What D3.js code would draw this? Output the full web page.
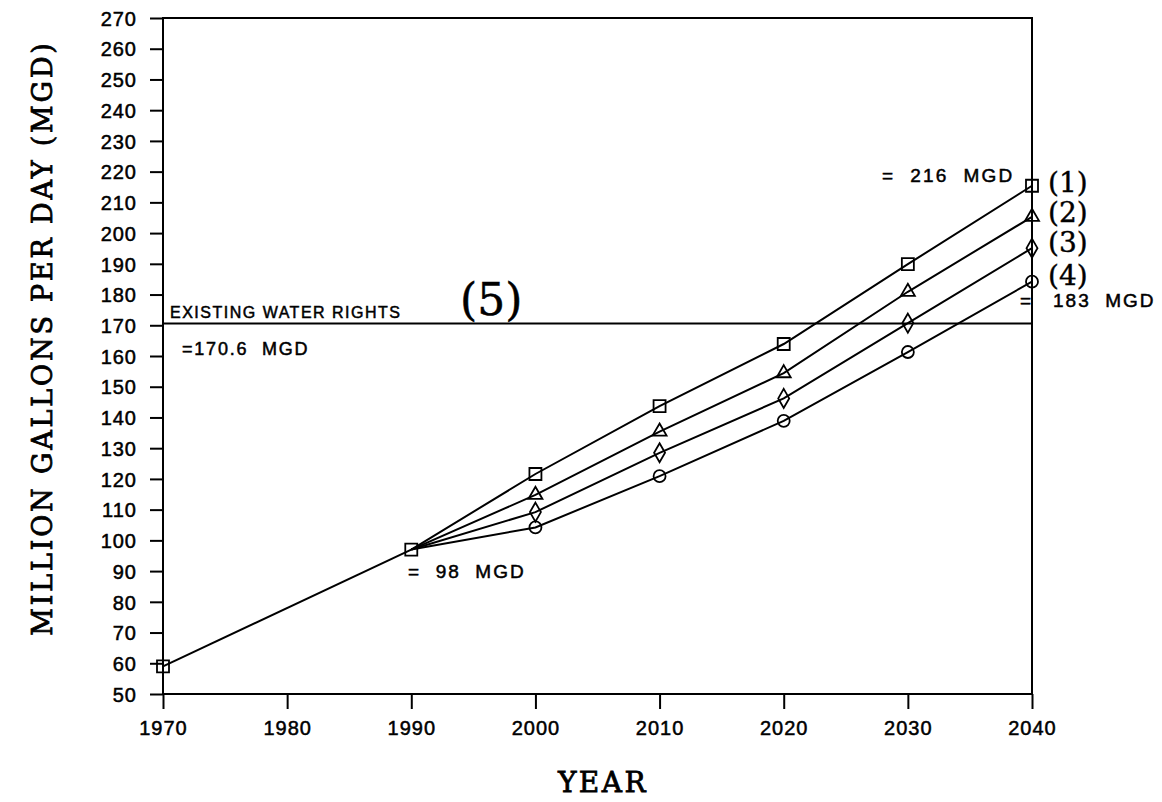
<!DOCTYPE html>
<html>
<head>
<meta charset="utf-8">
<script src="https://cdn.jsdelivr.net/npm/d3@7"></script>
<style>
  body { margin: 0; background: #fff; }
  text { fill: #000; }
</style>
</head>
<body>
<svg width="1162" height="802"></svg>
<script>
// historical demand and base year
var histYears = [1970, 1990];
var histMgd = [59, 97];

// projection years and the four scenarios (1)-(4)
var projYears = [2000, 2010, 2020, 2030, 2040];
var scenario1 = [121.6, 143.7, 163.9, 189.9, 215.4];
var scenario2 = [114.8, 135.4, 154.4, 180.9, 205.3];
var scenario3 = [109.2, 128.5, 146.2, 170.7, 195.1];
var scenario4 = [104.2, 120.9, 138.9, 161.3, 184.2];
var scenarioLabels = ["(1)", "(2)", "(3)", "(4)"];

var waterRights = 170.6;
var xTicks = [1970, 1980, 1990, 2000, 2010, 2020, 2030, 2040];
var yTicks = d3.range(50, 271, 10);

var svg = d3.select("svg");

var x = d3.scaleLinear().domain([1970, 2040]).range([163, 1032]);
var y = d3.scaleLinear().domain([50, 270]).range([694, 18]);

var sans = "'Liberation Sans', Arial, sans-serif";
var serif = "'DejaVu Serif', serif";

// frame
svg.append("rect")
  .attr("x", x(1970)).attr("y", y(270))
  .attr("width", x(2040) - x(1970)).attr("height", y(50) - y(270))
  .attr("fill", "none").attr("stroke", "#000").attr("stroke-width", 2);

// axes
var yAxis = svg.append("g")
  .attr("transform", "translate(" + x(1970) + ",0)")
  .call(d3.axisLeft(y).tickValues(yTicks).tickSize(13).tickPadding(13).tickFormat(d3.format("d")));
var xAxis = svg.append("g")
  .attr("transform", "translate(0," + y(50) + ")")
  .call(d3.axisBottom(x).tickValues(xTicks).tickSize(15).tickPadding(12).tickFormat(d3.format("d")));

[yAxis, xAxis].forEach(function(g) {
  g.select(".domain").remove();
  g.selectAll("line").attr("stroke", "#000").attr("stroke-width", 2);
  g.selectAll("text")
    .attr("font-family", sans).attr("font-size", 20)
    .attr("letter-spacing", 1).attr("fill", "#000")
    .attr("stroke", "#000").attr("stroke-width", 0.5);
});
yAxis.selectAll("text").attr("dy", "0.36em");

// water rights line
svg.append("line")
  .attr("x1", x(1970)).attr("x2", x(2040))
  .attr("y1", y(waterRights)).attr("y2", y(waterRights))
  .attr("stroke", "#000").attr("stroke-width", 2);

var line = d3.line().x(function(d) { return x(d[0]); }).y(function(d) { return y(d[1]); });

// historical segment
var hist = histYears.map(function(yr, i) { return [yr, histMgd[i]]; });
svg.append("path").attr("d", line(hist))
  .attr("fill", "none").attr("stroke", "#000").attr("stroke-width", 2);

var scenarios = [scenario1, scenario2, scenario3, scenario4];
var shapes = [
  d3.symbol().type(d3.symbolSquare).size(144),
  d3.symbol().type(d3.symbolTriangle).size(85),
  d3.symbol().type(d3.symbolDiamond).size(104),
  d3.symbol().type(d3.symbolCircle).size(113)
];

scenarios.forEach(function(vals, s) {
  var pts = [[1990, histMgd[1]]].concat(projYears.map(function(yr, i) { return [yr, vals[i]]; }));
  svg.append("path").attr("d", line(pts))
    .attr("fill", "none").attr("stroke", "#000").attr("stroke-width", 2);
  var markerPts = s === 0 ? hist.concat(pts.slice(1)) : pts.slice(1);
  svg.selectAll(null).data(markerPts).enter().append("path")
    .attr("d", shapes[s]())
    .attr("transform", function(d) { return "translate(" + x(d[0]) + "," + y(d[1]) + ")"; })
    .attr("fill", "none").attr("stroke", "#000").attr("stroke-width", 1.8);
});

// scenario labels on the right
var labelBase = [192, 222, 252, 285];
scenarioLabels.forEach(function(t, i) {
  svg.append("text").attr("x", 1048).attr("y", labelBase[i])
    .attr("font-family", serif).attr("font-size", 28)
    .attr("stroke", "#000").attr("stroke-width", 0.4).text(t);
});

// annotations
function note(txt, xp, yp, size, ls) {
  svg.append("text").attr("x", xp).attr("y", yp)
    .attr("font-family", sans).attr("font-size", size)
    .attr("letter-spacing", ls).style("white-space", "pre")
    .attr("stroke", "#000").attr("stroke-width", 0.5).text(txt);
}
note("EXISTING WATER RIGHTS", 170, 318, 16, 1.5);
note("=170.6  MGD", 182, 355, 18, 1.8);
note("=  216  MGD", 882, 182, 19, 2.2);
note("=", 1020, 307, 19, 0);
note("183  MGD", 1053, 307, 19, 2);
note("=  98  MGD", 408, 578, 19, 2);

svg.append("text").attr("x", 460).attr("y", 315)
  .attr("font-family", serif).attr("font-size", 44)
  .attr("stroke", "#000").attr("stroke-width", 0.5).text("(5)");

// axis titles
svg.append("text")
  .attr("transform", "translate(52," + 338 + ") rotate(-90)")
  .attr("text-anchor", "middle")
  .attr("font-family", serif).attr("font-size", 27)
  .attr("stroke", "#000").attr("stroke-width", 0.8)
  .attr("letter-spacing", 2.8)
  .text("MILLION GALLONS PER DAY (MGD)");
svg.append("text")
  .attr("x", 603).attr("y", 792).attr("text-anchor", "middle")
  .attr("font-family", serif).attr("font-size", 28)
  .attr("stroke", "#000").attr("stroke-width", 0.8)
  .attr("letter-spacing", 2.5)
  .text("YEAR");
</script>
</body>
</html>
